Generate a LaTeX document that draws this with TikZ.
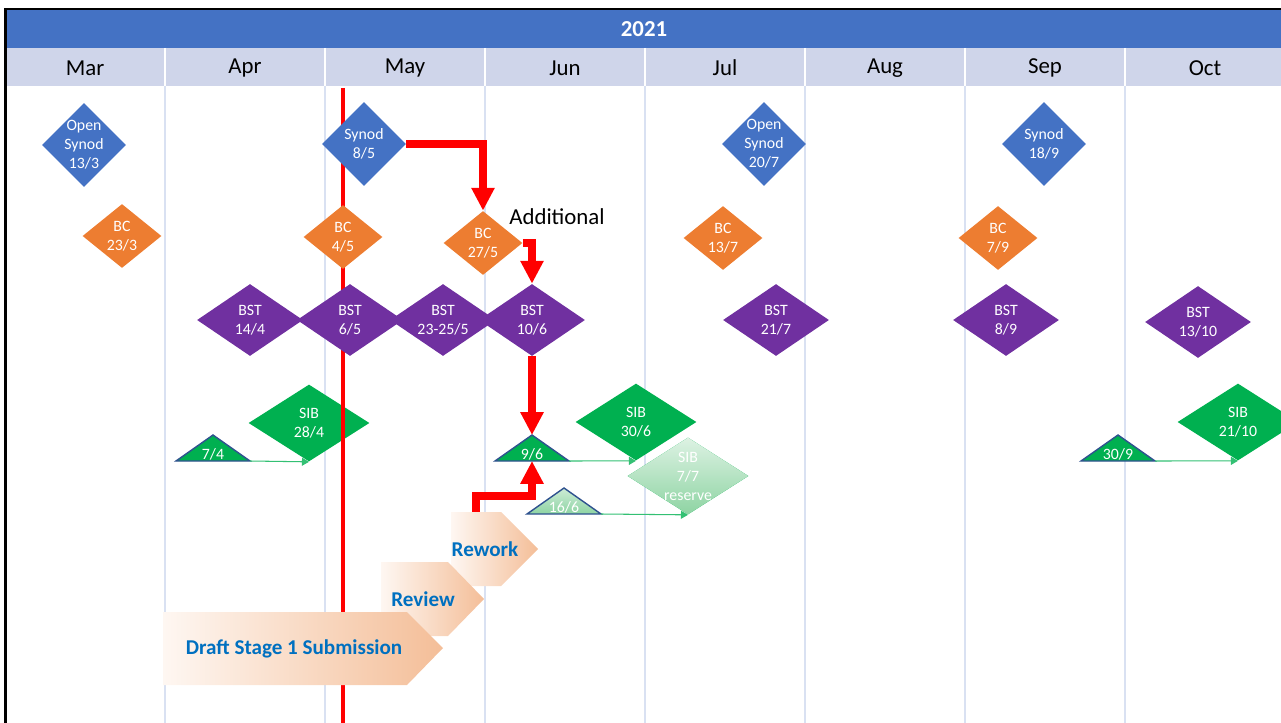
\documentclass[tikz,border=0pt]{standalone}
\usepackage{fontspec}
\setmainfont{Carlito}
\usetikzlibrary{shapes.geometric, arrows.meta, positioning, calc}

\definecolor{yearblue}{HTML}{4472C4}
\definecolor{monthbg}{HTML}{CFD5EA}
\definecolor{gridblue}{HTML}{D9E1F2}
\definecolor{bcorange}{HTML}{ED7D31}
\definecolor{bstpurple}{HTML}{7030A0}
\definecolor{sibgreen}{HTML}{00B050}
\definecolor{mborder}{HTML}{2F528F}
\definecolor{phaseblue}{HTML}{0070C0}
\definecolor{phaseleft}{HTML}{FEF7F2}
\definecolor{phaseright}{HTML}{F4BE98}
\definecolor{restop}{HTML}{DDF2E3}
\definecolor{resbottom}{HTML}{8ED4A3}

\begin{document}
\begin{tikzpicture}[
    x=0.02cm, y=-0.02cm,
    month/.style={font=\fontsize{13}{15}\selectfont},
    evt/.style={diamond, inner sep=-2pt, align=center, text=white, font=\fontsize{9}{10.8}\selectfont},
    synod/.style={evt, fill=yearblue, minimum width=1.68cm, minimum height=1.68cm},
    bc/.style={evt, fill=bcorange, minimum width=1.58cm, minimum height=1.28cm, shape aspect=1.23},
    bst/.style={evt, fill=bstpurple, minimum width=2.12cm, minimum height=1.44cm, shape aspect=1.47},
    sib/.style={evt, fill=sibgreen, minimum width=2.42cm, minimum height=1.54cm, shape aspect=1.57},
    mstone/.style={fill=sibgreen, draw=mborder, line width=0.8pt},
    mtext/.style={text=white, font=\fontsize{9}{10.8}\selectfont, inner sep=0pt, anchor=base},
    sibline/.style={draw=sibgreen!80, line width=0.6pt, -{Triangle[length=4pt,width=4.5pt]}},
    redline/.style={draw=red, line width=2.3pt},
    redarrow/.style={draw=red, line width=4pt, -{Triangle[length=13pt,width=12.5pt]}},
    phase/.style={left color=phaseleft, right color=phaseright},
    phasetext/.style={text=phaseblue, font=\bfseries\fontsize{12}{14}\selectfont}
]
\useasboundingbox (0,0) rectangle (1281,723);

% header
\fill [yearblue] (7,10) rectangle (1281,48);
\fill [monthbg] (7,48) rectangle (1281,86);
\node [text=white, font=\bfseries\fontsize{13}{15}\selectfont] (year) at (644,29) {2021};
\foreach \m [count=\i] in {Mar,Apr,May,Jun,Jul,Aug,Sep,Oct}
    \node [month] (mon\i) at (85+160*\i-160,68) {\m};
\foreach \x in {165,325,...,1125} {
    \draw [white, line width=1.1pt] (\x,48) -- (\x,86);
    \draw [gridblue, line width=1.1pt] (\x,86) -- (\x,723);
}
\draw [line width=1.4pt] (5.5,723) -- (5.5,9) -- (1281,9);

% SIB dates and milestones
\node [sib] (sib284) at (309,423) {SIB\\28/4};
\node [sib] (sib306) at (636,422) {SIB\\30/6};
\node [sib, top color=restop, bottom color=resbottom] (sib77) at (688,476) {SIB\\7/7\\reserve};
\node [sib] (sib2110) at (1238,422) {SIB\\21/10};

\coordinate (m74) at (213,461);
\coordinate (m96) at (532,461);
\coordinate (m166) at (564,514);
\coordinate (m309) at (1118,461);
\foreach \c in {m74,m96,m309}
    \filldraw [mstone] (\c) ++(-37,0) -- ++(37,-26) -- ++(37,26) -- cycle;
\shadedraw [draw=mborder, line width=0.8pt, top color=restop!80!resbottom, bottom color=resbottom] (m166) ++(-37,0) -- ++(37,-26) -- ++(37,26) -- cycle;
\node [mtext] at ([yshift=0.04cm]m74) {7/4};
\node [mtext] at ([yshift=0.04cm]m96) {9/6};
\node [mtext] at ([yshift=0.04cm]m166) {16/6};
\node [mtext] at ([yshift=0.04cm]m309) {30/9};

\path [sibline] ([xshift=0.74cm]m74) -- (sib284.south);
\path [sibline] ([xshift=0.74cm]m96) -- (sib306.south);
\path [sibline] ([xshift=0.74cm]m166) -- (sib77.south);
\path [sibline] ([xshift=0.74cm]m309) -- (sib2110.south);

\draw [redline] (343,88) -- (343,723);

% Synod, BC, BST
\node [synod] (osyn133) at (84,145) {Open\\Synod\\13/3};
\node [synod] (syn85) at (364,144) {Synod\\8/5};
\node [synod] (osyn207) at (764,144) {Open\\Synod\\20/7};
\node [synod] (syn189) at (1044,144) {Synod\\18/9};

\node [bc] (bc233) at (122,236) {BC\\23/3};
\node [bc] (bc45) at (343,237) {BC\\4/5};
\node [bc] (bc275) at (483,243) {BC\\27/5};
\node [bc] (bc137) at (723,238) {BC\\13/7};
\node [bc] (bc79) at (998,238) {BC\\7/9};
\node [font=\fontsize{13}{15}\selectfont] (extra) at (557,217) {Additional};

\node [bst] (bst144) at (250,320) {BST\\14/4};
\node [bst] (bst65) at (350,320) {BST\\6/5};
\node [bst] (bst2325) at (443,320) {BST\\23-25/5};
\node [bst] (bst106) at (532,320) {BST\\10/6};
\node [bst] (bst217) at (776,320) {BST\\21/7};
\node [bst] (bst89) at (1006,320) {BST\\8/9};
\node [bst] (bst1310) at (1198,322) {BST\\13/10};

\coordinate (rwtop) at (476,512);
\path [redarrow] (syn85.east) -| (bc275.north);
\path [redarrow] (bc275.east) -| (bst106.north);
\path [redarrow] (bst106.south) -- ([yshift=0.52cm]m96);
\path [redarrow] (rwtop) -- ++(0,-16) -| (m96);

% phases
\shade [phase] (451,512) -- (501,512) -- (538,549) -- (501,586) -- (451,586) -- cycle;
\node [phasetext] (rework) at (485,549) {Rework};
\shade [phase] (381,562) -- (448,562) -- (484,599) -- (448,636) -- (381,636) -- cycle;
\node [phasetext] (review) at (423,599) {Review};
\shade [phase] (163,612) -- (407,612) -- (443,648) -- (407,685) -- (163,685) -- cycle;
\node [phasetext] (draft) at (294,649) {Draft Stage 1 Submission};
\end{tikzpicture}
\end{document}
